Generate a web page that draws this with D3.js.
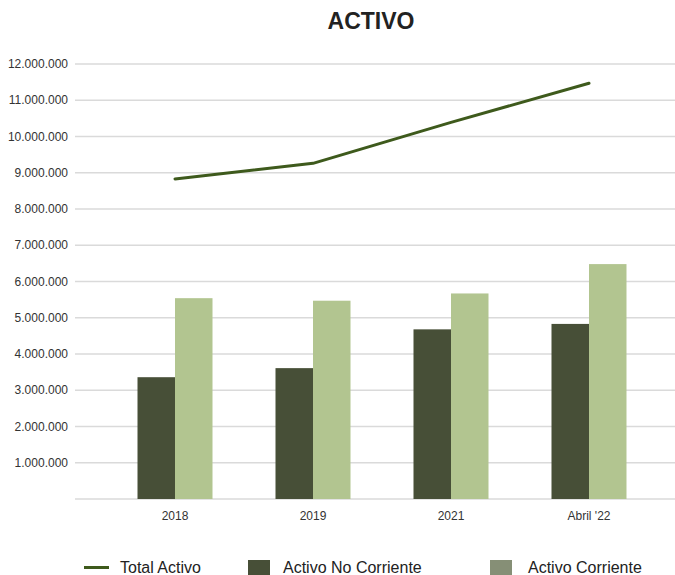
<!DOCTYPE html>
<html><head><meta charset="utf-8">
<script src="https://cdn.jsdelivr.net/npm/d3@7"></script>
<style>body{margin:0;background:#fff}svg{display:block;font-family:"Liberation Sans",Arial,sans-serif}</style>
</head><body><svg id="c" width="675" height="575"></svg>
<script>
const categories = ["2018", "2019", "2021", "Abril '22"];
const activoNoCorriente = [3360000, 3610000, 4680000, 4830000];
const activoCorriente = [5540000, 5470000, 5670000, 6480000];
const totalActivo = [8830000, 9260000, 10390000, 11470000];
const yTicks = [0,1000000,2000000,3000000,4000000,5000000,6000000,7000000,8000000,9000000,10000000,11000000,12000000];
const seriesNames = ["Activo No Corriente", "Activo Corriente"];

const svg = d3.select("#c");
const y = d3.scaleLinear().domain([0, 12000000]).range([499, 64]);
const x0 = d3.scaleBand().domain(categories).range([106, 658]).paddingInner(0.4565).paddingOuter(0.2283);
const x1 = d3.scaleBand().domain(seriesNames).range([0, x0.bandwidth()]);
const colors = {"Activo No Corriente": "#474f37", "Activo Corriente": "#b2c590"};
const fmt = v => d3.format(",")(v).replace(/,/g, ".");

svg.append("text").attr("x", 371).attr("y", 29).attr("text-anchor", "middle")
  .attr("font-size", 23).attr("font-weight", "bold").attr("fill", "#222").text("ACTIVO");

svg.append("g").selectAll("line").data(yTicks).join("line")
  .attr("x1", 75).attr("x2", 675).attr("y1", d => y(d)).attr("y2", d => y(d))
  .attr("stroke", "#dadada").attr("stroke-width", 1.6);

svg.append("g").selectAll("text").data(yTicks.filter(d => d > 0)).join("text")
  .attr("x", 68).attr("y", d => y(d)).attr("dy", "0.35em").attr("text-anchor", "end")
  .attr("font-size", 12).attr("fill", "#333").text(fmt);

const rows = categories.map((c, i) => ({c, vals: [activoNoCorriente[i], activoCorriente[i]]}));
const g = svg.append("g");
rows.forEach(r => {
  g.selectAll(null).data(seriesNames.map((s, j) => ({s, v: r.vals[j]}))).join("rect")
    .attr("x", d => x0(r.c) + x1(d.s)).attr("width", x1.bandwidth())
    .attr("y", d => y(d.v)).attr("height", d => y(0) - y(d.v))
    .attr("fill", d => colors[d.s]);
});

svg.append("g").selectAll("text").data(categories).join("text")
  .attr("x", d => x0(d) + x0.bandwidth() / 2).attr("y", 519.5).attr("text-anchor", "middle")
  .attr("font-size", 12).attr("fill", "#333").text(d => d);

const line = d3.line().x((d, i) => x0(categories[i]) + x0.bandwidth() / 2).y(d => y(d));
svg.append("path").datum(totalActivo).attr("d", line).attr("fill", "none")
  .attr("stroke", "#3e5a1c").attr("stroke-width", 3).attr("stroke-linecap", "round").attr("stroke-linejoin", "round");

const lg = svg.append("g").attr("font-size", 16).attr("fill", "#222");
lg.append("line").attr("x1", 84).attr("x2", 109).attr("y1", 567.5).attr("y2", 567.5)
  .attr("stroke", "#3e5a1c").attr("stroke-width", 3);
lg.append("text").attr("x", 120).attr("y", 572.5).text("Total Activo");
lg.append("rect").attr("x", 248).attr("y", 560).attr("width", 22).attr("height", 16).attr("fill", "#474f37");
lg.append("text").attr("x", 283).attr("y", 572.5).text("Activo No Corriente");
lg.append("rect").attr("x", 490).attr("y", 560).attr("width", 22).attr("height", 16).attr("fill", "#868f76");
lg.append("text").attr("x", 528).attr("y", 572.5).text("Activo Corriente");
</script></body></html>
